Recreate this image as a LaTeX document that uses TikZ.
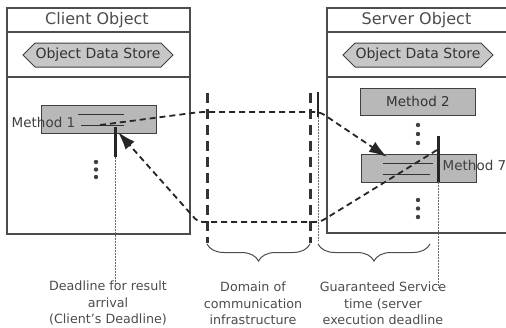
\documentclass[tikz,border=0pt]{standalone}
\usepackage{fontspec}
\setmainfont{DejaVu Sans}
\usetikzlibrary{arrows.meta,shapes.symbols,decorations.pathreplacing,positioning}

\begin{document}
\begin{tikzpicture}[
  x=1pt, y=-1pt,
  objbox/.style={draw=black!70, line width=1.2pt},
  title/.style={text=black!70, font=\fontsize{16}{18}\selectfont},
  store/.style={signal, signal to=east and west, draw=black!75, fill=black!22, line width=1pt, minimum width=150pt, minimum height=24pt, inner sep=0pt, text=black!80, font=\fontsize{14}{16}\selectfont},
  meth/.style={draw=black!75, fill=black!28, line width=1pt, minimum width=115pt, minimum height=28pt, inner sep=0pt, text=black!80, font=\fontsize{13.5}{16}\selectfont},
  mlabel/.style={text=black!75, font=\fontsize{13.5}{16}\selectfont, inner sep=0pt},
  stack/.style={draw=black!80, line width=1pt},
  msg/.style={draw=black!85, line width=1.8pt, dash pattern=on 6pt off 4pt, rounded corners=5pt},
  commline/.style={draw=black!80, line width=3pt, dash pattern=on 10pt off 6pt},
  limit/.style={draw=black!85, line width=3pt},
  guide/.style={draw=black!60, line width=0.8pt, dash pattern=on 1.5pt off 1.5pt},
  note/.style={align=center, text=black!70, inner sep=0pt, font=\fontsize{12.7}{16.5}\selectfont},
  bracket/.style={draw=black!70, line width=1pt, decorate, decoration={brace, mirror, amplitude=17pt}},
  tip/.style={-{Latex[length=18pt, width=12pt]}}
  ]

  \useasboundingbox (0,0) rectangle (506,327);

  % client side
  \draw[objbox] (7,8) rectangle (190,234);
  \draw[objbox] (7,32) -- (190,32);
  \draw[objbox] (7,77) -- (190,77);
  \node[title] (ctitle) at (97,20) {Client Object};
  \node[store] (cstore) at (98,55) {Object Data Store};
  \node[meth] (m1) at (98.5,119.5) {};
  \node[mlabel] (m1label) at (43.5,122) {Method 1};
  \draw[stack] (78,114) -- (124,114);
  \draw[stack] (81,125) -- (124,125);
  \fill[black!75] (96,162) circle (2.2pt) (96,169.5) circle (2.2pt) (96,177) circle (2.2pt);

  % server side (box runs off the right edge)
  \draw[objbox] (506,8) -- (327,8) -- (327,233) -- (506,233);
  \draw[objbox] (327,32) -- (506,32);
  \draw[objbox] (327,77) -- (506,77);
  \node[title] (stitle) at (416.5,20) {Server Object};
  \node[store] (sstore) at (418,55) {Object Data Store};
  \node[meth, minimum height=27pt] (m2) at (418,101.5) {Method 2};
  \node[meth] (m7) at (418.5,168) {};
  \node[mlabel] (m7label) at (474.5,165) {Method 7};
  \draw[stack] (383,163) -- (433,163);
  \draw[stack] (383,174) -- (430,174);
  \fill[black!75] (418,125) circle (2.2pt) (418,134) circle (2.2pt) (418,143) circle (2.2pt);
  \fill[black!75] (418,200) circle (2.2pt) (418,208.5) circle (2.2pt) (418,217) circle (2.2pt);

  % labels below
  \node[note] (lclient) at (108,303.5) {Deadline for result\\arrival\\(Client's Deadline)};
  \node[note] (ldomain) at (253,303.5) {Domain of\\communication\\infrastructure};
  \node[note] (lserver) at (383,303.5) {Guaranteed Service\\time (server\\execution deadline};

  % deadlines
  \coordinate (d1top) at (115,127);
  \coordinate (d1end) at (115,157);
  \draw[limit] (d1top) -- (d1end);
  \draw[guide] (d1end) -- ([yshift=-6pt]d1end |- lclient.north);

  \coordinate (d7top) at (438,136);
  \coordinate (d7end) at (438,182);
  \draw[limit] (d7top) -- (d7end);
  \draw[guide] (d7end) -- ([yshift=-6pt]d7end |- lserver.north);

  \coordinate (s0top) at (318,92);
  \coordinate (s0end) at (318,117);
  \draw[limit, line width=2.2pt] (s0top) -- (s0end);
  \draw[guide] (s0end) -- (318,241);

  % communication domain
  \coordinate (dla) at (207,93);
  \coordinate (dlb) at (207,243);
  \coordinate (dra) at (310,93);
  \coordinate (drb) at (310,243);
  \draw[commline] (dla) -- (dlb);
  \draw[commline] (dra) -- (drb);

  % messages
  \coordinate (req0) at (100,125);
  \coordinate (req1) at (200,112);
  \coordinate (req2) at (320,112);
  \coordinate (req3) at (387,157);
  \draw[msg, tip] (req0) -- (req1) -- (req2) -- (req3);

  \coordinate (rep0) at (437,150);
  \coordinate (rep1) at (320,222);
  \coordinate (rep2) at (198,222);
  \coordinate (rep3) at (118,132);
  \draw[msg, tip] (rep0) -- (rep1) -- (rep2) -- (rep3);

  % braces
  \draw[bracket] (207,244) -- (310,244);
  \draw[bracket] (318,244) -- (430,244);

\end{tikzpicture}
\end{document}
